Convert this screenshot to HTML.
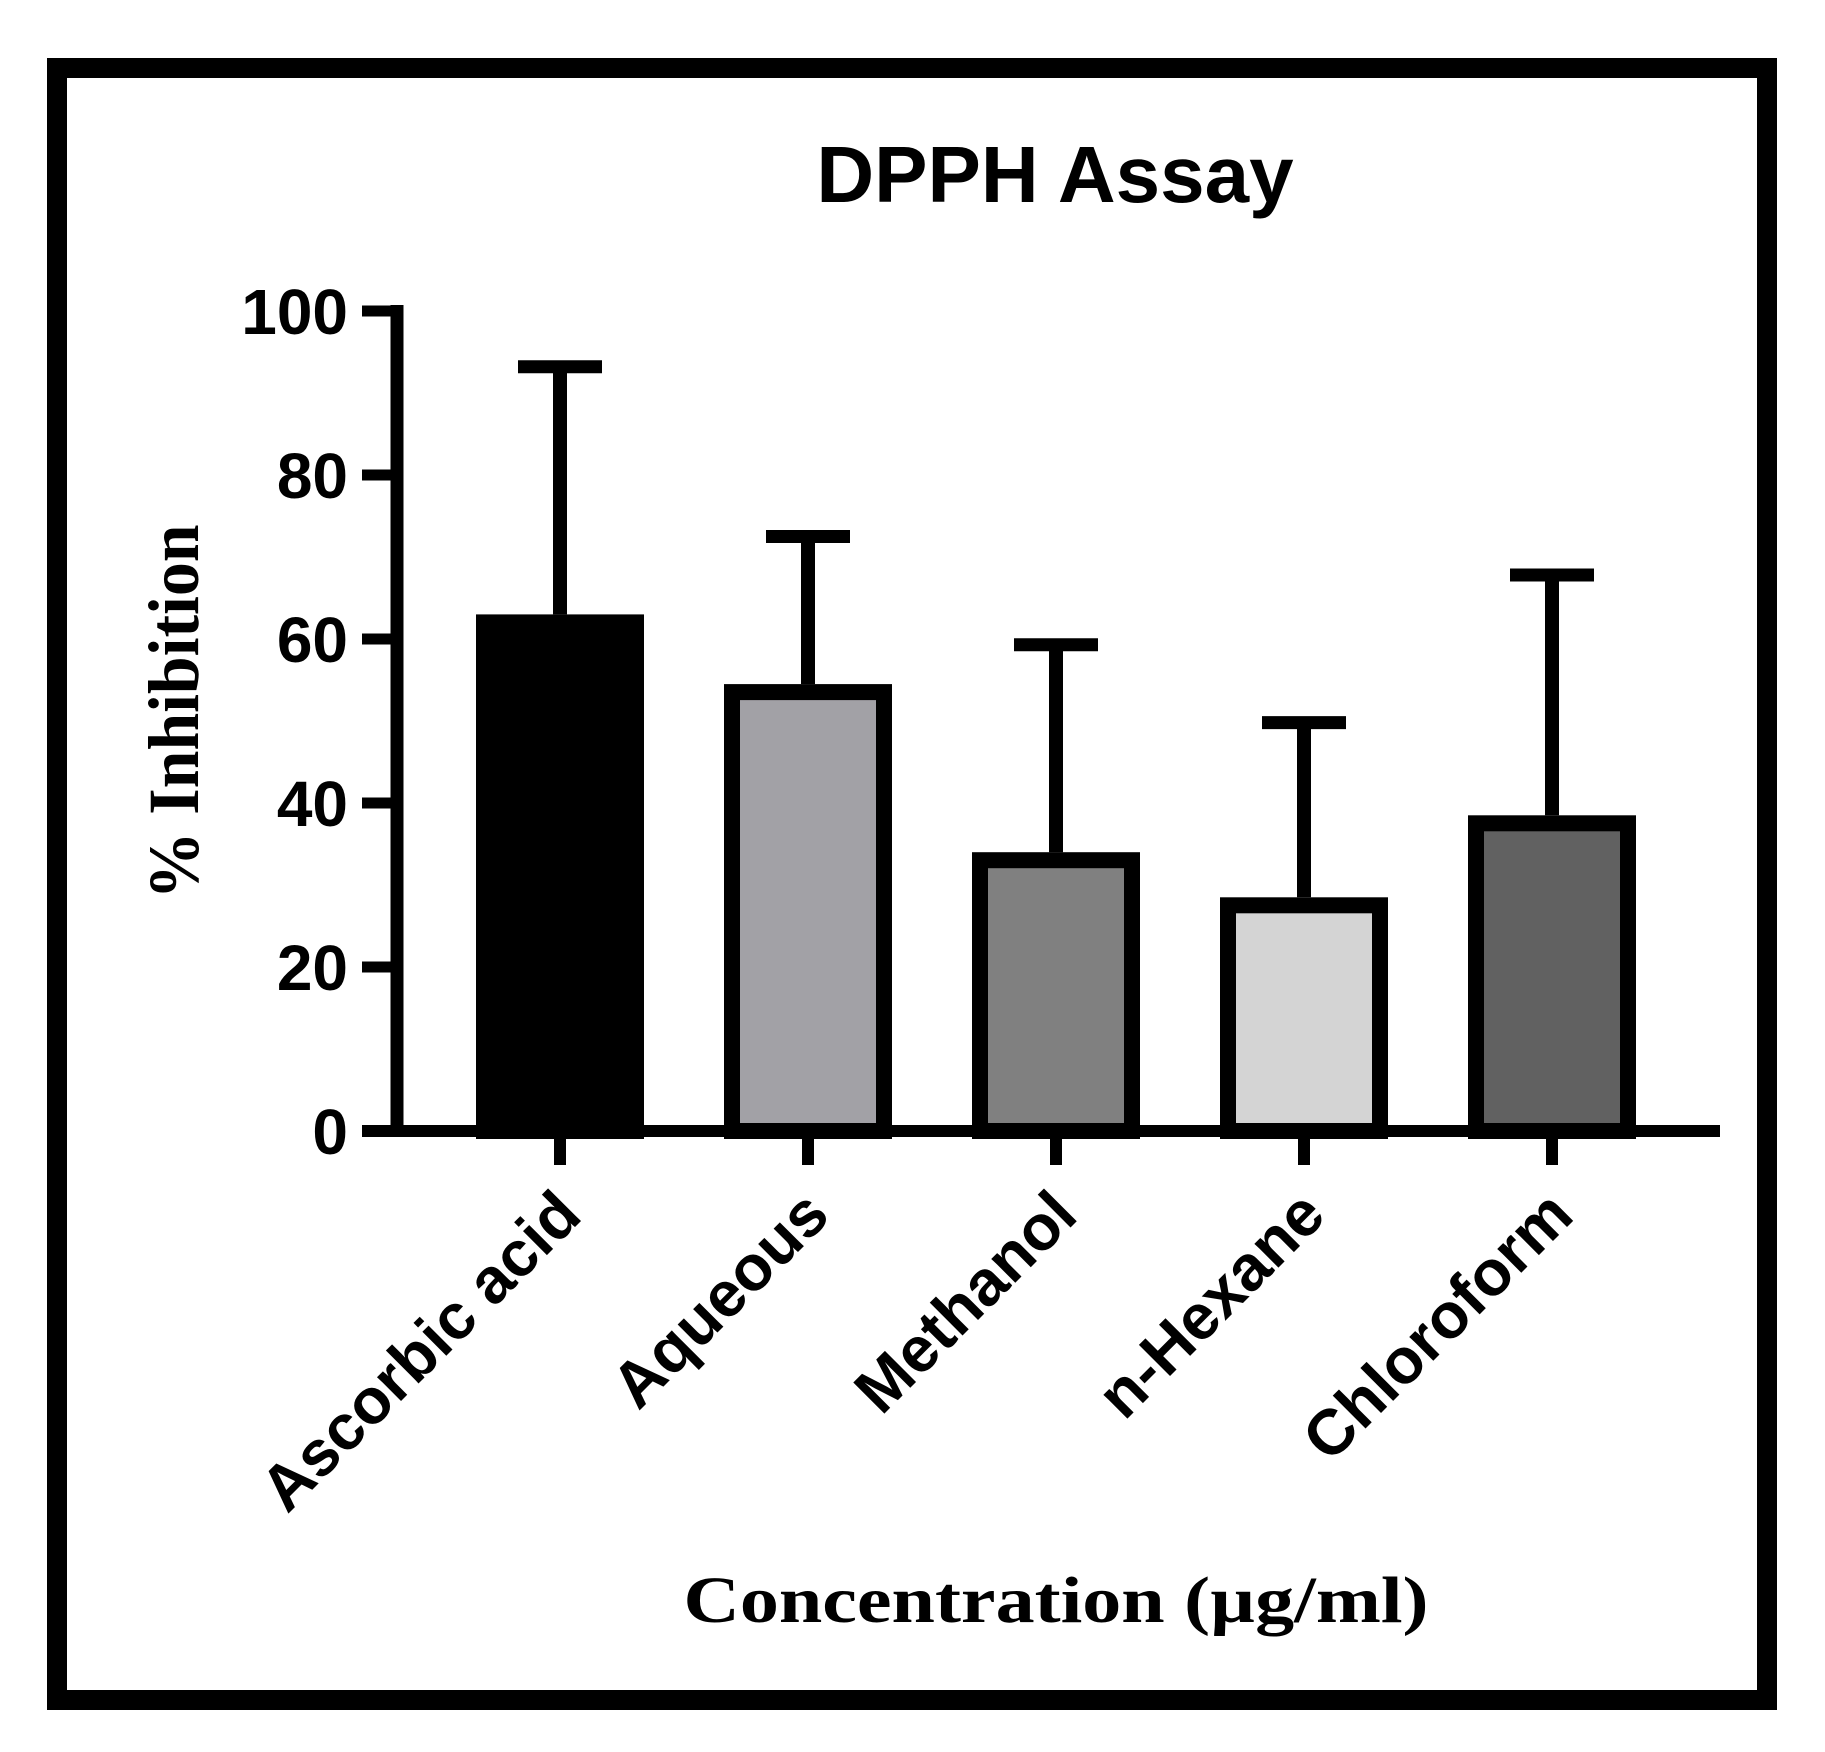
<!DOCTYPE html>
<html><head><meta charset="utf-8"><style>
html,body{margin:0;padding:0;background:#fff;}
svg{display:block;}
</style></head><body>
<svg id="chart" width="1825" height="1752" viewBox="0 0 1825 1752" xmlns="http://www.w3.org/2000/svg">
<rect x="57" y="68" width="1710" height="1632" fill="#fff" stroke="#000" stroke-width="20"/>
<text x="1055" y="202" text-anchor="middle" font-family="Liberation Sans, sans-serif" font-weight="bold" font-size="80">DPPH Assay</text>
<text transform="translate(198,712) rotate(-90)" text-anchor="middle" font-family="Liberation Serif, serif" font-weight="bold" font-size="72" textLength="375" lengthAdjust="spacingAndGlyphs">% Inhibition</text>
<text x="1056" y="1622" text-anchor="middle" font-family="Liberation Serif, serif" font-weight="bold" font-size="66" textLength="745" lengthAdjust="spacingAndGlyphs">Concentration (µg/ml)</text>
<g id="plot"></g>
</svg>
<script>
const categories = ["Ascorbic acid","Aqueous","Methanol","n-Hexane","Chloroform"];
const means = [63, 54.5, 34, 28.5, 38.5];
const errTops = [93.2, 72.5, 59.3, 49.8, 67.8];
const fills = ["#000000","#a2a1a6","#808080","#d4d4d4","#616161"];
const yTicks = [0,20,40,60,80,100];

const NS="http://www.w3.org/2000/svg";
const g=document.getElementById('plot');
const y0=1131, yPer=8.2;
function yScale(v){return y0 - v*yPer;}
function xScale(i){return 560 + i*248;}
function mk(tag,attrs){const e=document.createElementNS(NS,tag);for(const k in attrs)e.setAttribute(k,attrs[k]);g.appendChild(e);return e;}

categories.forEach((c,i)=>{
  const cx=xScale(i);
  const l=mk('line',{x1:cx,x2:cx,y1:yScale(means[i]),y2:yScale(errTops[i]),stroke:'#000','stroke-width':14});
  
  
  const cap=mk('line',{x1:cx-42,x2:cx+42,y1:yScale(errTops[i]),y2:yScale(errTops[i]),stroke:'#000','stroke-width':13});
  
  
});
categories.forEach((c,i)=>{
  const cx=xScale(i);
  const top=yScale(means[i]);
  const r=mk('rect',{x:cx-76,y:top+8,width:152,height:y0-top-8,fill:fills[i],stroke:'#000','stroke-width':16});
  
  
});
const ya=mk('line',{x1:397,x2:397,y1:yScale(100)-6,y2:y0+6,stroke:'#000','stroke-width':13});


const xa=mk('line',{x1:362,x2:1720,y1:y0,y2:y0,stroke:'#000','stroke-width':12});


yTicks.forEach(t=>{
  const tk=mk('line',{x1:362,x2:397,y1:yScale(t),y2:yScale(t),stroke:'#000','stroke-width':11});
  
  
  const lb=mk('text',{x:348,y:yScale(t)+23,'text-anchor':'end','font-family':'Liberation Sans, sans-serif','font-weight':'bold','font-size':64});
  lb.textContent=t;
  
  
});
categories.forEach((c,i)=>{
  const cx=xScale(i);
  const tk=mk('line',{x1:cx,x2:cx,y1:y0,y2:y0+34,stroke:'#000','stroke-width':12});
  
  
  const lb=mk('text',{transform:'translate('+(cx+24)+',1218) rotate(-45)','text-anchor':'end','font-family':'Liberation Sans, sans-serif','font-weight':'bold','font-size':64});
  lb.textContent=c;
  
  
});
</script>
</body></html>
